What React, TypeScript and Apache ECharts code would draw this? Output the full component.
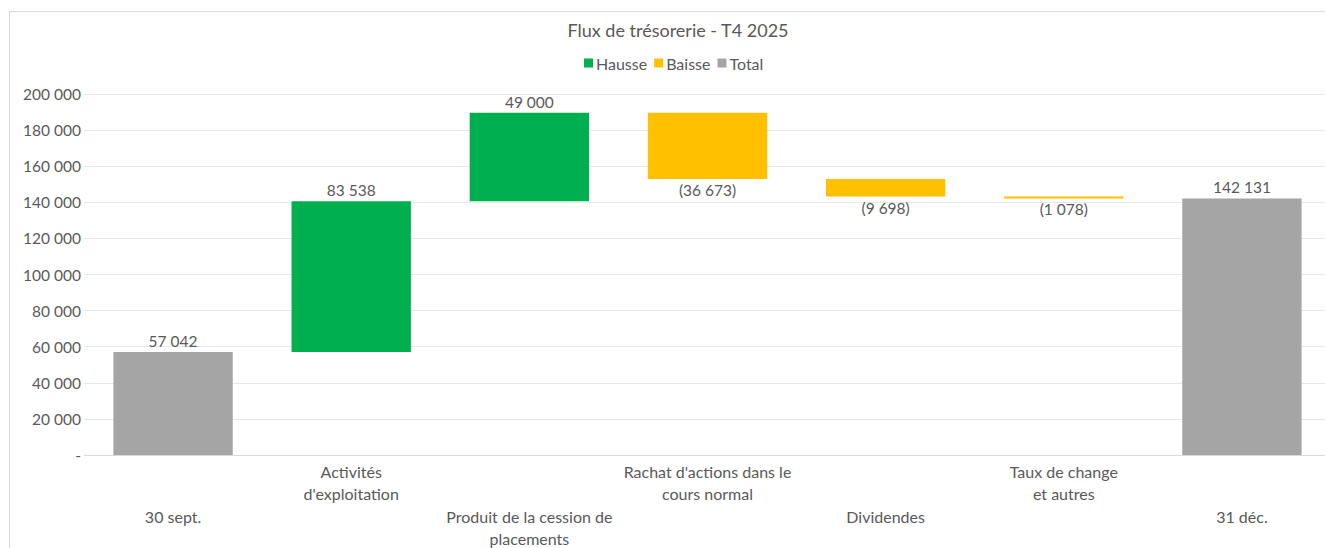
import React, { useEffect, useRef } from "react";
import * as echarts from "echarts";

const categories = [
  "30 sept.",
  "Activités\nd'exploitation",
  "Produit de la cession de\nplacements",
  "Rachat d'actions dans le\ncours normal",
  "Dividendes",
  "Taux de change\net autres",
  "31 déc.",
];
const values = [57042, 83538, 49000, -36673, -9698, -1078, 142131];
const kinds = ["total", "up", "up", "down", "down", "down", "total"];
const yTicks = [0, 20000, 40000, 60000, 80000, 100000, 120000, 140000, 160000, 180000, 200000];

const fmt = (v: number) => String(Math.round(Math.abs(v))).replace(/\B(?=(\d{3})+(?!\d))/g, " ");

const TEXT = "#595959";
const FONT = "Lato";

export default function App() {
  const ref = useRef<HTMLDivElement>(null);
  useEffect(() => {
    if (!ref.current) return;
    const chart = echarts.init(ref.current, undefined, { renderer: "svg" });

    const base: (number | string)[] = [];
    const up: (number | string)[] = [];
    const down: (number | string)[] = [];
    const total: (number | string)[] = [];
    let running = 0;
    values.forEach((v, i) => {
      const k = kinds[i];
      if (k === "total") {
        base.push(0);
        total.push(v);
        up.push("-");
        down.push("-");
        running = v;
      } else if (k === "up") {
        base.push(running);
        up.push(v);
        down.push("-");
        total.push("-");
        running += v;
      } else {
        running += v;
        base.push(running);
        down.push(-v);
        up.push("-");
        total.push("-");
      }
    });

    const labelStyle = { color: TEXT, fontFamily: FONT, fontSize: 15.5 };

    chart.setOption({
      animation: false,
      title: {
        text: "Flux de trésorerie - T4 2025",
        left: 663,
        textAlign: "center",
        top: 4,
        textStyle: { color: TEXT, fontFamily: FONT, fontSize: 18, fontWeight: "normal" },
      },
      legend: {
        data: ["Hausse", "Baisse", "Total"],
        left: 663 - 94,
        top: 38,
        icon: "rect",
        itemWidth: 9,
        itemHeight: 9,
        itemGap: 7,
        textStyle: { color: TEXT, fontFamily: FONT, fontSize: 16, padding: [0, 0, 0, -2] },
      },
      grid: { left: 74, top: 82, width: 1247, height: 361, containLabel: false },
      xAxis: {
        type: "category",
        data: categories,
        axisLine: { lineStyle: { color: "#d9d9d9" } },
        axisTick: { show: false },
        axisLabel: {
          interval: 0,
          color: TEXT,
          fontFamily: FONT,
          fontSize: 16,
          lineHeight: 22.5,
          margin: 5,
          formatter: (val: string, idx: number) => (idx % 2 === 0 ? "\n\n" + val : val),
        },
      },
      yAxis: {
        type: "value",
        min: yTicks[0],
        max: yTicks[yTicks.length - 1],
        interval: 20000,
        axisLine: { show: false },
        axisTick: { show: false },
        splitLine: { lineStyle: { color: "#e6e6e6" } },
        axisLabel: {
          color: TEXT,
          fontFamily: FONT,
          fontSize: 15.5,
          margin: 3,
          formatter: (v: number) => (v === 0 ? "-" : fmt(v)),
        },
      },
      series: [
        {
          name: "base",
          type: "bar",
          stack: "wf",
          data: base,
          itemStyle: { color: "transparent" },
          barWidth: "67%",
          silent: true,
        },
        {
          name: "Hausse",
          type: "bar",
          stack: "wf",
          data: up,
          itemStyle: { color: "#00B050" },
          label: { show: true, position: "top", distance: 3, ...labelStyle, formatter: (p: any) => fmt(p.value) },
        },
        {
          name: "Baisse",
          type: "bar",
          stack: "wf",
          data: down,
          itemStyle: { color: "#FFC000" },
          label: { show: true, position: "bottom", distance: 3, ...labelStyle, formatter: (p: any) => "(" + fmt(p.value) + ")" },
        },
        {
          name: "Total",
          type: "bar",
          stack: "wf",
          data: total,
          itemStyle: { color: "#A5A5A5" },
          label: { show: true, position: "top", distance: 3, ...labelStyle, formatter: (p: any) => fmt(p.value) },
        },
      ],
    });
    return () => chart.dispose();
  }, []);

  return (
    <div style={{ position: "fixed", left: 0, top: 0, width: 1325, height: 548, overflow: "hidden", background: "#fff" }}>
      <div
        style={{
          position: "absolute",
          left: 9,
          top: 11,
          width: 1345,
          height: 560,
          border: "1px solid #d9d9d9",
          boxSizing: "border-box",
        }}
      >
        <div ref={ref} style={{ width: 1343, height: 558 }} />
      </div>
    </div>
  );
}
